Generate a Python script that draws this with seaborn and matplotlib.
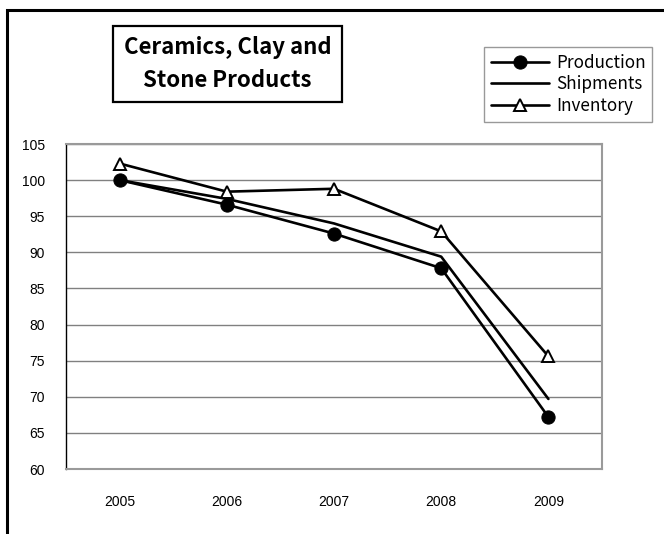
import pandas as pd
import matplotlib
matplotlib.use("Agg")
import matplotlib.pyplot as plt
from matplotlib.patches import Rectangle
import seaborn as sns

# Datos
years = ["2005", "2006", "2007", "2008", "2009"]
production = [100.0, 96.6, 92.6, 87.8, 67.2]
shipments = [100.0, 97.4, 94.0, 89.4, 69.7]
inventory = [102.3, 98.4, 98.8, 92.9, 75.6]
yticks = [60, 65, 70, 75, 80, 85, 90, 95, 100, 105]

df = pd.DataFrame({
    "year": years * 3,
    "value": production + shipments + inventory,
    "series": ["Production"] * 5 + ["Shipments"] * 5 + ["Inventory"] * 5,
})

sns.set_theme(style="white")
plt.rcParams["font.family"] = ["Liberation Sans", "DejaVu Sans"]
plt.rcParams["text.color"] = "black"

W, H = 664, 534
fig = plt.figure(figsize=(W / 100, H / 100), dpi=100)
ax = fig.add_axes([66 / W, 1 - 469 / H, 536 / W, 325 / H])

estilos = {
    "Production": dict(marker="o", markerfacecolor="black", markersize=9.5),
    "Shipments": dict(marker=None),
    "Inventory": dict(marker="^", markerfacecolor="white", markersize=8.5, markeredgewidth=1.4),
}
for nombre, kw in estilos.items():
    sub = df[df["series"] == nombre]
    sns.lineplot(data=sub, x="year", y="value", ax=ax, color="black", linewidth=1.9,
                 markeredgecolor="black", label=nombre, sort=False, **kw)

ax.set_xlim(-0.5, 4.5)
ax.set_ylim(60, 105)
ax.set_yticks(yticks)
ax.set_xlabel("")
ax.set_ylabel("")
ax.grid(axis="y", color="#808080", linewidth=1)
ax.grid(axis="x", visible=False)
for lado in ["top", "right", "bottom"]:
    ax.spines[lado].set_color("#9a9a9a")
    ax.spines[lado].set_linewidth(1.5)
ax.spines["left"].set_color("black")
ax.spines["left"].set_linewidth(1)
ax.tick_params(axis="both", length=0, labelsize=10, colors="black")
ax.tick_params(axis="y", pad=15)
ax.tick_params(axis="x", pad=19)

leg = ax.legend(loc="upper left", bbox_to_anchor=(484 / W, 1 - 47 / H),
                bbox_transform=fig.transFigure, frameon=True, fancybox=False,
                handlelength=3.4, handletextpad=0.4, borderpad=0.4,
                labelspacing=0.2, borderaxespad=0,
                prop={"family": ["Noto Sans CJK JP", "DejaVu Sans"], "size": 12.3})
leg.get_frame().set_edgecolor("#808080")
leg.get_frame().set_linewidth(1)

# Caja del título
fig.patches.append(Rectangle((113 / W, 1 - 102 / H), 229 / W, 76 / H,
                             transform=fig.transFigure, facecolor="white",
                             edgecolor="black", linewidth=1.6))
fig.text(227.5 / W, 1 - 64 / H, "Ceramics, Clay and\nStone Products",
         ha="center", va="center", fontsize=16, fontweight="bold", color="black",
         family=["Noto Sans CJK JP", "DejaVu Sans"], linespacing=1.55)

# Borde exterior del gráfico
fig.patches.append(Rectangle((7 / W, -0.1), 1.2, 1 - 10 / H + 0.1,
                             transform=fig.transFigure, fill=False,
                             edgecolor="black", linewidth=2.2))

plt.savefig("out.png", dpi=100)
plt.close()
